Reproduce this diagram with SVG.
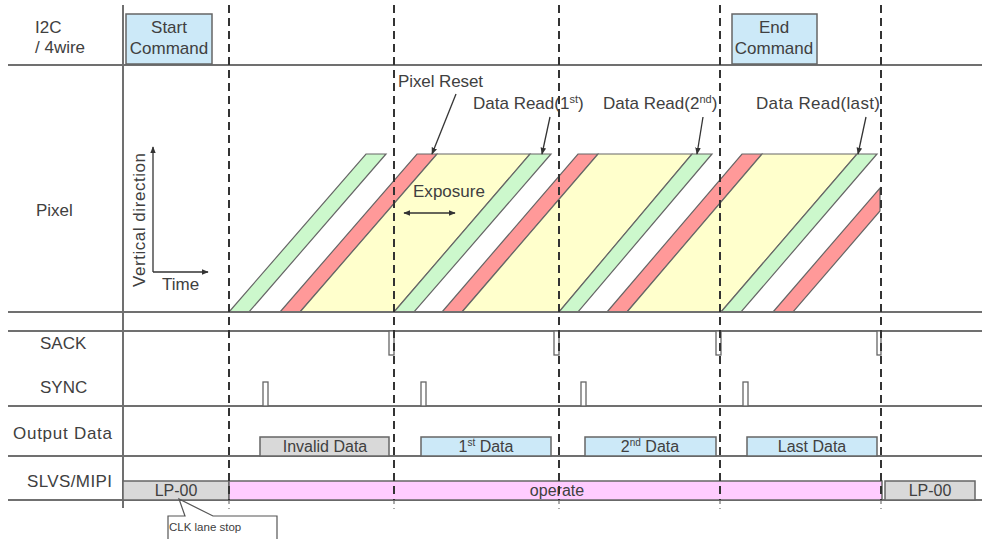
<svg xmlns="http://www.w3.org/2000/svg" width="982" height="539" viewBox="0 0 982 539">
<defs>
<marker id="ah" viewBox="0 0 10 10" refX="9" refY="5" markerWidth="7" markerHeight="7" orient="auto-start-reverse" markerUnits="userSpaceOnUse">
<path d="M0,1 L10,5 L0,9 z" fill="#333"/>
</marker>
<style>
text{font-family:"Liberation Sans",Arial,sans-serif;fill:#404040;font-size:17px}
.s16{font-size:16px}
.s12{font-size:11.5px}
.sup{font-size:11px}
.sup10{font-size:10px}
.grid{stroke:#707070;stroke-width:2;fill:none}
.dash{stroke:#333;stroke-width:2;stroke-dasharray:8 5;fill:none}
.dashl{stroke:#aaa;stroke-width:2;stroke-dasharray:3 4;fill:none}
.g{fill:#ccf8cc;stroke:#666;stroke-width:1.2}
.r{fill:#ff9999;stroke:#666;stroke-width:1.2}
.y{fill:#ffffcc;stroke:#666;stroke-width:1.2}
.blue{fill:#cce9f8;stroke:#666;stroke-width:1.5}
.gray{fill:#d9d9d9;stroke:#666;stroke-width:1.5}
.pink{fill:#ffccff;stroke:#666;stroke-width:1.5}
.pulse{fill:#fff;stroke:#666;stroke-width:1.3}
.lbl{stroke:#333;stroke-width:1.3;fill:none}
.mid{text-anchor:middle}
</style>
</defs>

<g id="pixel-bands">
<polygon class="g" points="229,312 249,312 386,154 366,154"/>
<polygon class="r" points="280,312 300,312 437,154 417,154"/>
<polygon class="y" points="300,312 394,312 530,154 437,154"/>
<polygon class="g" points="394,312 414,312 551,154 530,154"/>
<polygon class="r" points="442,312 462,312 598,154 578,154"/>
<polygon class="y" points="462,312 559,312 692,154 598,154"/>
<polygon class="g" points="559,312 578,312 712,154 692,154"/>
<polygon class="r" points="607,312 627,312 762,154 742,154"/>
<polygon class="y" points="627,312 721,312 857,154 762,154"/>
<polygon class="g" points="721,312 741,312 877,154 857,154"/>
<polygon class="r" points="773,312 793,312 880,211 880,188"/>
</g>

<g id="grid">
<line class="grid" x1="8" y1="65" x2="982" y2="65"/>
<line class="grid" x1="8" y1="312" x2="982" y2="312"/>
<line class="grid" x1="8" y1="331" x2="982" y2="331"/>
<line class="grid" x1="8" y1="406" x2="982" y2="406"/>
<line class="grid" x1="8" y1="456" x2="982" y2="456"/>
<line class="grid" x1="8" y1="500" x2="982" y2="500"/>
<line class="grid" x1="123" y1="5" x2="123" y2="508"/>
</g>

<g id="row-labels">
<text x="35" y="33">I2C</text>
<text x="35" y="53">/ 4wire</text>
<text x="36" y="216">Pixel</text>
<text x="40" y="349">SACK</text>
<text x="40" y="393">SYNC</text>
<text x="13" y="439" textLength="99">Output Data</text>
<text x="27" y="487" textLength="85">SLVS/MIPI</text>
</g>

<g id="start-command">
<rect class="blue" x="126" y="14" width="86" height="50"/>
<text class="mid" x="169" y="33">Start</text>
<text class="mid" x="169" y="54">Command</text>
</g>
<g id="end-command">
<rect class="blue" x="732" y="14" width="85" height="50"/>
<text class="mid" x="774" y="33">End</text>
<text class="mid" x="774" y="54">Command</text>
</g>

<g id="axes">
<line class="lbl" x1="153" y1="272" x2="153" y2="147" marker-end="url(#ah)"/>
<line class="lbl" x1="153" y1="272" x2="208" y2="272" marker-end="url(#ah)"/>
<text x="162" y="290">Time</text>
<text class="mid" transform="translate(145,220) rotate(-90)" textLength="134">Vertical direction</text>
</g>

<g id="exposure">
<text x="413" y="197" textLength="72">Exposure</text>
<line class="lbl" x1="404" y1="213" x2="455" y2="213" marker-start="url(#ah)" marker-end="url(#ah)"/>
</g>

<g id="pixel-reset">
<text x="398" y="87" textLength="85">Pixel Reset</text>
</g>
<g id="data-read-1">
<text x="473" y="109">Data Read(1<tspan class="sup" dy="-6">st</tspan><tspan dy="6">)</tspan></text>
</g>
<g id="data-read-2">
<text x="603" y="109">Data Read(2<tspan class="sup" dy="-6">nd</tspan><tspan dy="6">)</tspan></text>
</g>
<g id="data-read-last">
<text x="756" y="109" textLength="124">Data Read(last)</text>
</g>

<g id="sack">
<rect class="pulse" x="389" y="331" width="5" height="24"/>
<rect class="pulse" x="554" y="331" width="5" height="24"/>
<rect class="pulse" x="716" y="331" width="5" height="24"/>
<rect class="pulse" x="877" y="331" width="4" height="24"/>
</g>
<g id="sync">
<rect class="pulse" x="263" y="382" width="5" height="24"/>
<rect class="pulse" x="421" y="382" width="5" height="24"/>
<rect class="pulse" x="581" y="382" width="5" height="24"/>
<rect class="pulse" x="743" y="382" width="5" height="24"/>
</g>

<g id="invalid-data">
<rect class="gray" x="260" y="437" width="129" height="19"/>
<text class="mid s16" x="325" y="452">Invalid Data</text>
</g>
<g id="data-1st">
<rect class="blue" x="421" y="437" width="130" height="19"/>
<text class="mid s16" x="486" y="452">1<tspan class="sup10" dy="-6">st</tspan><tspan dy="6"> Data</tspan></text>
</g>
<g id="data-2nd">
<rect class="blue" x="585" y="437" width="131" height="19"/>
<text class="mid s16" x="650" y="452">2<tspan class="sup10" dy="-6">nd</tspan><tspan dy="6"> Data</tspan></text>
</g>
<g id="data-last">
<rect class="blue" x="747" y="437" width="130" height="19"/>
<text class="mid s16" x="812" y="452">Last Data</text>
</g>

<g id="lp00-start">
<rect class="gray" x="123" y="481" width="106" height="19"/>
<text class="mid s16" x="176" y="496">LP-00</text>
</g>
<g id="operate">
<rect class="pink" x="229" y="481" width="653" height="19"/>
<text class="mid s16" x="557" y="496">operate</text>
</g>
<g id="lp00-end">
<rect class="gray" x="885" y="481" width="90" height="19"/>
<text class="mid s16" x="930" y="496">LP-00</text>
</g>

<g id="clk-lane-stop">
<path d="M168,516 L185,516 L179,499 L213,516 L277,516 L277,542 L168,542 Z" fill="#fff" stroke="#555" stroke-width="1.2"/>
<text class="s12" x="169" y="531">CLK lane stop</text>
</g>

<g id="connectors">
<line class="dash" x1="229" y1="5" x2="229" y2="500"/>
<line class="dash" x1="394" y1="5" x2="394" y2="500"/>
<line class="dash" x1="559" y1="5" x2="559" y2="500"/>
<line class="dash" x1="720" y1="5" x2="720" y2="500"/>
<line class="dash" x1="881" y1="5" x2="881" y2="500"/>
<line class="dashl" x1="229" y1="501" x2="229" y2="509"/>
<line class="dashl" x1="394" y1="501" x2="394" y2="509"/>
<line class="dashl" x1="559" y1="501" x2="559" y2="509"/>
<line class="dashl" x1="720" y1="501" x2="720" y2="509"/>
<line class="dashl" x1="881" y1="501" x2="881" y2="509"/>
<line class="lbl" x1="456" y1="94" x2="432" y2="154" marker-end="url(#ah)"/>
<line class="lbl" x1="550" y1="117" x2="542" y2="154" marker-end="url(#ah)"/>
<line class="lbl" x1="703" y1="117" x2="697" y2="154" marker-end="url(#ah)"/>
<line class="lbl" x1="866" y1="117" x2="858" y2="154" marker-end="url(#ah)"/>
</g>
</svg>
